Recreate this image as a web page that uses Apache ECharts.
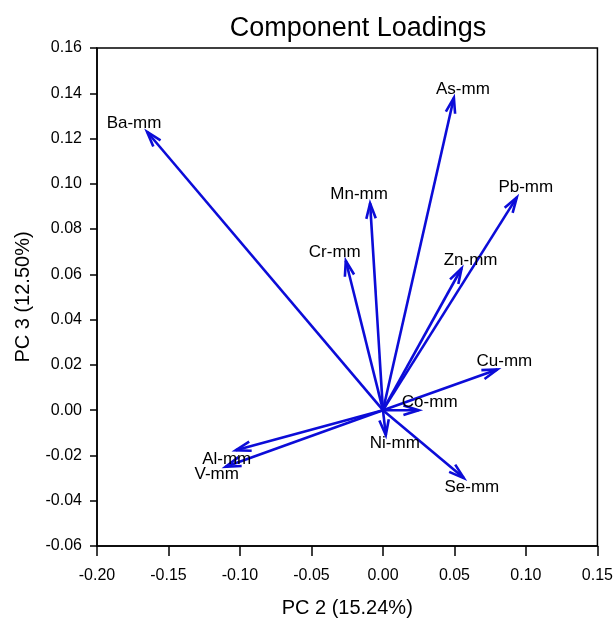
<!DOCTYPE html>
<html><head><meta charset="utf-8">
<script src="https://cdn.jsdelivr.net/npm/echarts@6/dist/echarts.min.js"></script>
<style>html,body{margin:0;padding:0;background:#fff}#c{width:616px;height:627px}</style>
</head><body><div id="c"></div>
<script>
const names = ['Ba-mm','As-mm','Pb-mm','Mn-mm','Cr-mm','Zn-mm','Cu-mm','Co-mm','Ni-mm','Se-mm','Al-mm','V-mm'];
const pc2 = [-0.165, 0.0496, 0.0936, -0.009, -0.026, 0.055, 0.080, 0.025, 0.002, 0.0566, -0.103, -0.110];
const pc3 = [0.123, 0.138, 0.094, 0.0914, 0.066, 0.0627, 0.018, 0.000, -0.011, -0.030, -0.0177, -0.025];
const xTicks = [-0.20,-0.15,-0.10,-0.05,0.00,0.05,0.10,0.15];
const yTicks = [-0.06,-0.04,-0.02,0.00,0.02,0.04,0.06,0.08,0.10,0.12,0.14,0.16];
// label offsets (px) relative to arrow tip: style only
const labelOffset = {
  'Ba-mm':[-13,-8],'As-mm':[9,-8],'Pb-mm':[9,-10],'Mn-mm':[-11,-9],'Cr-mm':[-11,-8],
  'Zn-mm':[9,-8],'Cu-mm':[7,-8],'Co-mm':[11,-8],'Ni-mm':[9,8],'Se-mm':[8,9],
  'Al-mm':[-9,9],'V-mm':[-9,8]
};
const data = names.map((n,i)=>[pc2[i], pc3[i], n]);
const blue = '#0c0cd8';
const font = 'Liberation Sans, Arial';
const chart = echarts.init(document.getElementById('c'));
chart.setOption({
  animation:false,
  title:{text:'Component Loadings', left:353, top:10, textAlign:'center',
    textStyle:{fontFamily:font, fontSize:27, fontWeight:'normal', color:'#000'}},
  grid:{left:97, right:18, top:48, bottom:81, show:true, borderColor:'#000', borderWidth:1.5},
  xAxis:{type:'value', min:-0.20, max:0.15, interval:0.05,
    name:'PC 2 (15.24%)', nameLocation:'middle', nameGap:52,
    nameTextStyle:{fontFamily:font, fontSize:20, color:'#000'},
    axisLine:{show:true, onZero:false, lineStyle:{color:'#000', width:1.5}},
    axisTick:{show:true, length:10, lineStyle:{color:'#000', width:1.5}},
    axisLabel:{fontFamily:font, fontSize:16, color:'#000', margin:22,
      formatter:v=>v.toFixed(2), showMaxLabel:true, showMinLabel:true},
    splitLine:{show:false}},
  yAxis:{type:'value', min:-0.06, max:0.16, interval:0.02,
    name:'PC 3 (12.50%)', nameLocation:'middle', nameGap:64, nameRotate:90,
    nameTextStyle:{fontFamily:font, fontSize:20, color:'#000'},
    axisLine:{show:true, onZero:false, lineStyle:{color:'#000', width:1.5}},
    axisTick:{show:true, length:7, lineStyle:{color:'#000', width:1.5}},
    axisLabel:{fontFamily:font, fontSize:16, color:'#000', margin:15,
      formatter:v=>v.toFixed(2)},
    splitLine:{show:false}},
  series:[{
    type:'custom',
    data:data,
    renderItem:function(params, api){
      const o = api.coord([0,0]);
      const t = api.coord([api.value(0), api.value(1)]);
      const name = names[params.dataIndex];
      const ang = Math.atan2(t[1]-o[1], t[0]-o[0]);
      const L = 16, a = 0.3;
      const p1 = [t[0]-L*Math.cos(ang-a), t[1]-L*Math.sin(ang-a)];
      const p2 = [t[0]-L*Math.cos(ang+a), t[1]-L*Math.sin(ang+a)];
      const off = labelOffset[name];
      return {type:'group', children:[
        {type:'line', shape:{x1:o[0],y1:o[1],x2:t[0],y2:t[1]}, style:{stroke:blue, lineWidth:2.6}},
        {type:'polyline', shape:{points:[p1,t,p2]}, style:{stroke:blue, lineWidth:2.6, fill:null, lineJoin:'miter'}},
        {type:'text', x:t[0]+off[0], y:t[1]+off[1], style:{text:name, fill:'#000',
          font:'17px "Liberation Sans", Arial', textAlign:'center', textVerticalAlign:'middle'}, z2:10}
      ]};
    }
  }]
});
</script></body></html>
